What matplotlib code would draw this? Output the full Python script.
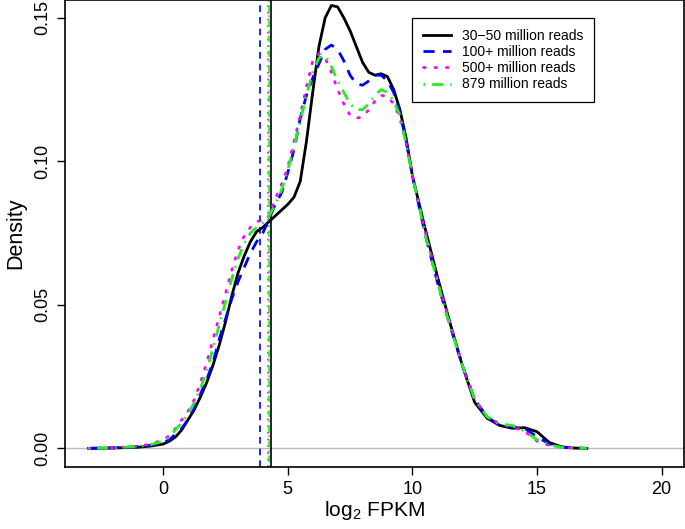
import numpy as np
import matplotlib
matplotlib.use('Agg')
import matplotlib.pyplot as plt

plt.rcParams['font.family'] = ['Liberation Sans', 'DejaVu Sans']
plt.rcParams['mathtext.default'] = 'regular'

# density curves
x = [-3, -2, -1, -0.5,
     0, 0.25, 0.5, 0.75, 1, 1.25, 1.5, 1.75, 2, 2.25, 2.5, 2.75, 3, 3.25, 3.5, 3.75,
     4, 4.25, 4.5, 4.75, 5, 5.25, 5.5, 5.75, 6, 6.25, 6.5, 6.75, 7, 7.25, 7.5, 7.75,
     8, 8.25, 8.5, 8.75, 9, 9.25, 9.5, 9.75, 10,
     10.5, 11, 11.5, 12, 12.5, 13, 13.5, 14, 14.5, 15, 15.5, 16, 16.5, 17]

d30 = [0, 0.0001, 0.0004, 0.0008,
       0.0015, 0.0025, 0.004, 0.0065, 0.010, 0.0135, 0.018, 0.023, 0.029, 0.036, 0.044, 0.053,
       0.061, 0.067, 0.072, 0.0755, 0.077, 0.079, 0.081, 0.083, 0.085, 0.0875, 0.093, 0.107,
       0.124, 0.140, 0.150, 0.1543, 0.1538, 0.150, 0.1455, 0.140, 0.1345, 0.131, 0.130,
       0.1305, 0.1295, 0.125, 0.118, 0.108, 0.095,
       0.077, 0.060, 0.044, 0.029, 0.016, 0.0105, 0.008, 0.007, 0.0072, 0.0058, 0.002,
       0.0005, 0.0001, 0]
d100 = [0, 0.0002, 0.0006, 0.0011,
        0.002, 0.003, 0.005, 0.007, 0.010, 0.014, 0.019, 0.024, 0.030, 0.038, 0.045, 0.052,
        0.058, 0.063, 0.068, 0.072, 0.075, 0.080, 0.085, 0.089, 0.096, 0.104, 0.115, 0.123,
        0.129, 0.134, 0.139, 0.1405, 0.139, 0.135, 0.130, 0.127, 0.1265, 0.128, 0.130,
        0.130, 0.128, 0.124, 0.117, 0.107, 0.095,
        0.075, 0.058, 0.043, 0.029, 0.017, 0.011, 0.008, 0.0075, 0.007, 0.004, 0.0015,
        0.0004, 0.0001, 0]
d500 = [0, 0.0002, 0.0007, 0.0015,
        0.003, 0.0045, 0.007, 0.010, 0.013, 0.017, 0.023, 0.030, 0.038, 0.046, 0.054, 0.062,
        0.069, 0.074, 0.077, 0.079, 0.0795, 0.081, 0.087, 0.092, 0.098, 0.107, 0.116, 0.126,
        0.135, 0.1375, 0.136, 0.131, 0.125, 0.120, 0.116, 0.115, 0.1155, 0.118, 0.121,
        0.123, 0.1225, 0.120, 0.115, 0.106, 0.095,
        0.076, 0.059, 0.044, 0.029, 0.017, 0.011, 0.0085, 0.0075, 0.006, 0.0025, 0.001,
        0.0004, 0.0001, 0]
d879 = [0, 0.0002, 0.0006, 0.0013,
        0.0025, 0.004, 0.0065, 0.009, 0.012, 0.016, 0.021, 0.027, 0.035, 0.043, 0.051, 0.059,
        0.066, 0.0715, 0.075, 0.077, 0.0785, 0.081, 0.085, 0.090, 0.097, 0.105, 0.114, 0.123,
        0.131, 0.136, 0.137, 0.133, 0.128, 0.124, 0.120, 0.118, 0.118, 0.120, 0.123,
        0.125, 0.124, 0.121, 0.116, 0.106, 0.095,
        0.075, 0.058, 0.043, 0.029, 0.017, 0.011, 0.0085, 0.008, 0.006, 0.003, 0.0012,
        0.0003, 0.0001, 0]

# medians (vertical lines)
med30, med100, med500, med879 = 4.34, 3.9, 4.22, 4.24

labels = ['30\u221250 million reads', '100+ million reads', '500+ million reads', '879 million reads']

fig = plt.figure(figsize=(6.85, 5.29), dpi=100)
ax = fig.add_axes([65/685, 1-467/529, 619/685, 467/529])

ax.axhline(0, color='#bbbbbb', lw=1)
ax.axvline(med30, color='black', lw=1.2)
ax.axvline(med100, color='#0000ee', lw=1.2, ls=(0, (4, 3)))
ax.axvline(med500, color='#ff00ff', lw=1.2, ls=(0, (1, 3)))
ax.axvline(med879, color='#22ee22', lw=1.2, ls=(0, (1, 2, 4, 2)))

ax.plot(x, d30, color='black', lw=2, label=labels[0])
ax.plot(x, d100, color='#0000ee', lw=2, ls=(0, (4, 3)), label=labels[1])
ax.plot(x, d500, color='#ff00ff', lw=2, ls=(0, (0.6, 3.5)), dash_capstyle='round', label=labels[2])
ax.plot(x, d879, color='#22ee22', lw=2, ls=(0, (0.6, 2.5, 4, 2.5)), label=labels[3])

ax.set_xlim(-3.94, 20.9)
ax.set_ylim(-0.0065, 0.1562)
ax.set_xticks([0, 5, 10, 15, 20])
ax.set_yticks([0, 0.05, 0.10, 0.15])
ax.set_yticklabels(['0.00', '0.05', '0.10', '0.15'], rotation=90, va='center')
ax.tick_params(labelsize=13, length=6, width=1, pad=4)
ax.set_xlabel('log$_2$ FPKM', fontsize=15, labelpad=1)
ax.set_ylabel('Density', fontsize=15.5, labelpad=6)
for s in ax.spines.values():
    s.set_linewidth(1.2)

leg = ax.legend(loc='upper left', bbox_to_anchor=((412-65)/619, 1-18/467), fontsize=10,
                fancybox=False, edgecolor='black', framealpha=1, handlelength=2.0,
                handletextpad=0.8, borderpad=0.8, labelspacing=0.15, borderaxespad=0)
leg.get_frame().set_linewidth(0.9)

fig.savefig('out.png', dpi=100)
